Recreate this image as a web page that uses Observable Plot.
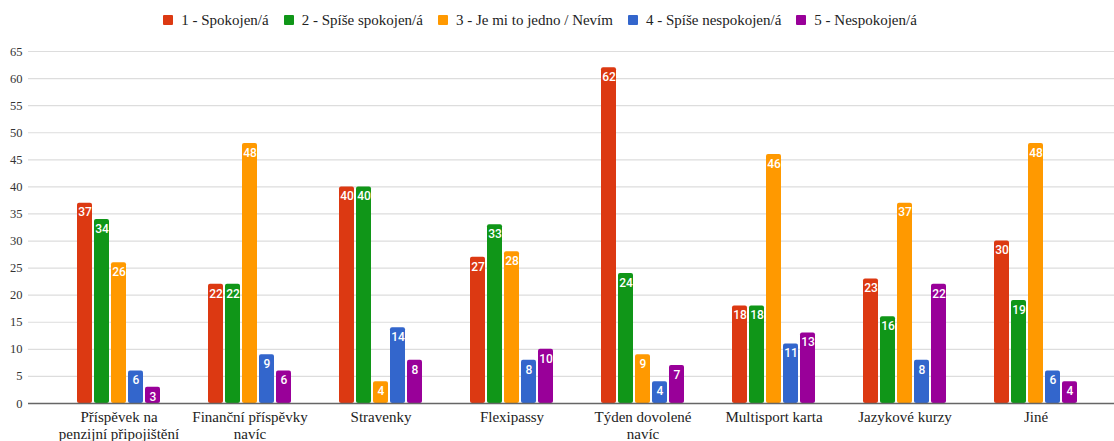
<!DOCTYPE html>
<html>
<head>
<meta charset="utf-8">
<script src="https://cdn.jsdelivr.net/npm/d3@7"></script>
<script src="https://cdn.jsdelivr.net/npm/@observablehq/plot@0.6"></script>
<style>
  html, body { margin: 0; padding: 0; background: #fff; overflow: hidden; }
  #legend { height: 40px; display: flex; justify-content: center; align-items: center; font-family: "Liberation Serif", "Times New Roman", serif; font-size: 15px; color: #222; padding-right: 34px; }
  #legend .item { display: flex; align-items: center; margin-right: 15px; }
  #legend .item:last-child { margin-right: 0; }
  #legend .sw { width: 10px; height: 10px; margin-right: 8px; border-radius: 1px; }
  #chart { position: relative; width: 1114px; height: 401px; }
  #chart svg { display: block; position: absolute; left: 0; top: 0; }
</style>
</head>
<body>
<div id="legend"></div>
<div id="chart"></div>
<script>
const categories = [
  "Příspěvek na penzijní připojištění",
  "Finanční příspěvky navíc",
  "Stravenky",
  "Flexipassy",
  "Týden dovolené navíc",
  "Multisport karta",
  "Jazykové kurzy",
  "Jiné"
];
const categoryTickLabels = [
  "Příspěvek na\npenzijní připojištění",
  "Finanční příspěvky\nnavíc",
  "Stravenky",
  "Flexipassy",
  "Týden dovolené\nnavíc",
  "Multisport karta",
  "Jazykové kurzy",
  "Jiné"
];
const seriesNames = [
  "1 - Spokojen/á",
  "2 - Spíše spokojen/á",
  "3 - Je mi to jedno / Nevím",
  "4 - Spíše nespokojen/á",
  "5 - Nespokojen/á"
];
const seriesColors = ["#dc3912", "#109618", "#ff9900", "#3366cc", "#990099"];
const spokojen = [37, 22, 40, 27, 62, 18, 23, 30];
const spiseSpokojen = [34, 22, 40, 33, 24, 18, 16, 19];
const jedno = [26, 48, 4, 28, 9, 46, 37, 48];
const spiseNespokojen = [6, 9, 14, 8, 4, 11, 8, 6];
const nespokojen = [3, 6, 8, 10, 7, 13, 22, 4];
const yTicks = [0, 5, 10, 15, 20, 25, 30, 35, 40, 45, 50, 55, 60, 65];

const seriesValues = [spokojen, spiseSpokojen, jedno, spiseNespokojen, nespokojen];
const data = [];
categories.forEach((c, i) => {
  seriesNames.forEach((s, j) => {
    data.push({category: c, series: s, value: seriesValues[j][i]});
  });
});
const tickLabelMap = new Map(categories.map((c, i) => [c, categoryTickLabels[i]]));

// Legend
const legend = document.getElementById("legend");
seriesNames.forEach((s, j) => {
  const item = document.createElement("div");
  item.className = "item";
  const sw = document.createElement("div");
  sw.className = "sw";
  sw.style.background = seriesColors[j];
  const t = document.createElement("span");
  t.textContent = s;
  item.appendChild(sw);
  item.appendChild(t);
  legend.appendChild(item);
});

const serif = "Liberation Serif, Times New Roman, serif";
const common = {
  width: 1114,
  height: 401,
  marginTop: 11,
  marginBottom: 38,
  style: {fontFamily: serif, fontSize: "12px", color: "#333", background: "transparent"}
};

// Background: grid and y axis (full width)
const grid = Plot.plot({
  ...common,
  marginLeft: 28,
  marginRight: 0,
  y: {domain: [0, 65], axis: null},
  marks: [
    Plot.ruleY(yTicks, {stroke: "#dddddd", strokeWidth: 1.2}),
    Plot.axisY(yTicks, {tickSize: 0, tickPadding: 6, fontSize: 12.5, fill: "#333", label: null, fontFamily: serif})
  ]
});

// Foreground: grouped bars
const bars = Plot.plot({
  ...common,
  marginLeft: 75,
  marginRight: 36,
  fx: {domain: categories, paddingInner: 0.352, paddingOuter: 0, label: null, axis: null},
  x: {domain: seriesNames, paddingInner: 0.133, paddingOuter: 0, axis: null},
  y: {domain: [0, 65], axis: null},
  color: {domain: seriesNames, range: seriesColors},
  marks: [
    Plot.barY(data, {fx: "category", x: "series", y: "value", fill: "series", rx: 2}),
    Plot.text(data, {fx: "category", x: "series", y: "value", text: d => String(d.value), dy: 9.5, fill: "white", fontWeight: 500, fontSize: 12, fontFamily: "Roboto, sans-serif"}),
    Plot.axisFx({anchor: "bottom", tickSize: 0, tickPadding: 6, fontSize: 15, fill: "#222", label: null, fontFamily: serif, tickFormat: d => tickLabelMap.get(d), lineHeight: 1.15})
  ]
});

// Baseline on top
const base = Plot.plot({
  ...common,
  marginLeft: 28,
  marginRight: 0,
  y: {domain: [0, 65], axis: null},
  marks: [Plot.ruleY([0], {stroke: "#666", strokeWidth: 1.3})]
});

const chartDiv = document.getElementById("chart");
chartDiv.appendChild(grid);
chartDiv.appendChild(bars);
chartDiv.appendChild(base);
</script>
</body>
</html>
